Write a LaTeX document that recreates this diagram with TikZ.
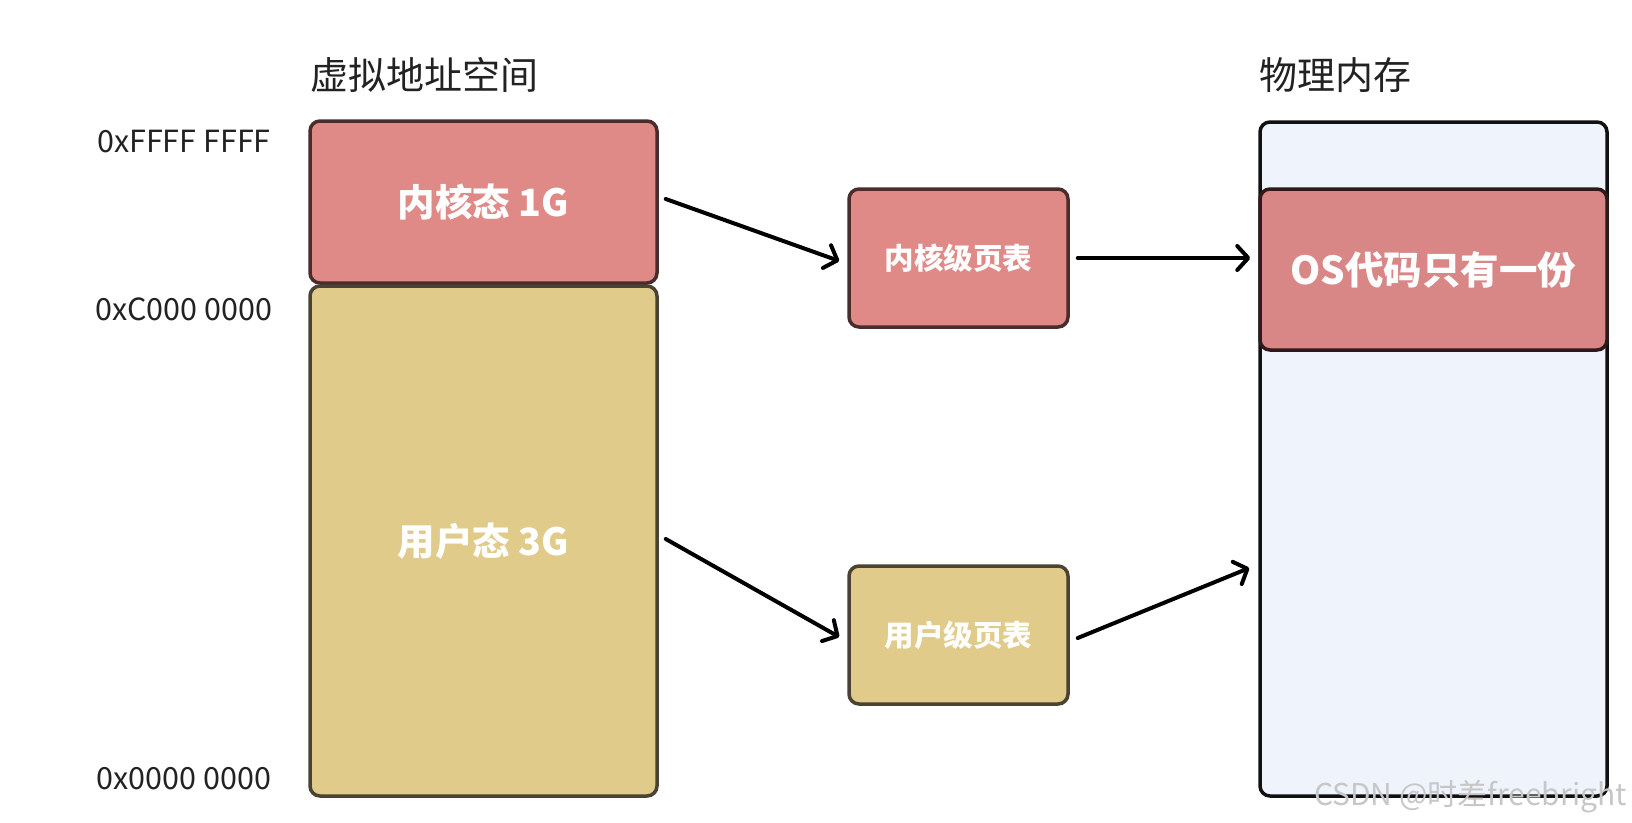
\documentclass[tikz,border=0pt]{standalone}
\usepackage{fontspec}
\setmainfont{Noto Sans CJK SC}
\usetikzlibrary{arrows.meta,calc}
\definecolor{kfill}{HTML}{E08A88}
\definecolor{kdraw}{HTML}{4A2C2C}
\definecolor{ufill}{HTML}{E0CB8B}
\definecolor{udraw}{HTML}{4A4232}
\definecolor{pfill}{HTML}{EEF3FC}
\definecolor{pdraw}{HTML}{111111}
\definecolor{ofill}{HTML}{D98786}
\definecolor{odraw}{HTML}{2E1A1A}
\definecolor{lbl}{HTML}{222222}
\tikzset{
  memblock/.style={rectangle, rounded corners=10pt, line width=3.5pt, inner sep=0pt, text=white, font=\bfseries\fontsize{37.5}{44}\selectfont},
  ptbox/.style={rectangle, rounded corners=10pt, line width=3.5pt, inner sep=0pt, text=white, font=\bfseries\fontsize{29.5}{34}\selectfont, minimum width=219pt, minimum height=138pt},
  addr/.style={text=lbl, font=\fontsize{30.5}{36}\selectfont, inner sep=0pt},
  title/.style={text=lbl, font=\fontsize{38}{44}\selectfont, inner sep=0pt, anchor=west},
  maparrow/.style={line width=4pt, line cap=round, -{Straight Barb[length=11pt,width=24pt,line width=4pt,line cap=round,line join=round]}}
}
\begin{document}
\begin{tikzpicture}[x=1pt,y=-1pt]
\useasboundingbox[fill=white] (0,0) rectangle (1632,822);
% titles
\node[title] (vtitle) at (310,75) {虚拟地址空间};
\node[title] (ptitle) at (1259,75) {物理内存};
% virtual address space
\node[memblock, fill=kfill, draw=kdraw, minimum width=347pt, minimum height=162pt] (kbox) at (483.5,202) {内核态 1G};
\node[memblock, fill=ufill, draw=udraw, minimum width=347pt, minimum height=510pt] (ubox) at (483.5,541) {用户态 3G};
% address labels
\node[addr] (a1) at (184,142) {0xFFFF FFFF};
\node[addr] (a2) at (184,309) {0xC000 0000};
\node[addr] (a3) at (184,779) {0x0000 0000};
% page tables
\node[ptbox, fill=kfill, draw=kdraw] (kpt) at (958.5,258) {内核级页表};
\node[ptbox, fill=ufill, draw=udraw] (upt) at (958.5,635) {用户级页表};
% physical memory
\node[rectangle, rounded corners=10pt, line width=3.5pt, fill=pfill, draw=pdraw, minimum width=347pt, minimum height=674pt, inner sep=0pt] (phys) at (1433.5,459) {};
\node[memblock, fill=ofill, draw=odraw, font=\bfseries\fontsize{38.5}{44}\selectfont, minimum width=347pt, minimum height=161pt] (os) at (1433.5,269.5) {OS代码只有一份};
% arrows
\coordinate (kin) at ([xshift=-8pt]phys.west |- kpt.east);
\coordinate (uin) at ([xshift=-9pt]phys.west |- 0,568);
\draw[maparrow] ([xshift=7pt,yshift=3pt]kbox.east) -- ([xshift=-8pt,yshift=-3pt]kpt.west);
\draw[maparrow] ([xshift=8pt]kpt.east) -- (kin);
\draw[maparrow] ([xshift=7pt,yshift=2pt]ubox.east) -- ([xshift=-8pt,yshift=-2pt]upt.west);
\draw[maparrow] ([xshift=8pt,yshift=-3pt]upt.east) -- (uin);
% watermark
\node[text=black!22, font=\fontsize{30}{34}\selectfont, anchor=east, inner sep=0pt] (wm) at (1627,797) {CSDN @时差freebright};
\end{tikzpicture}
\end{document}
